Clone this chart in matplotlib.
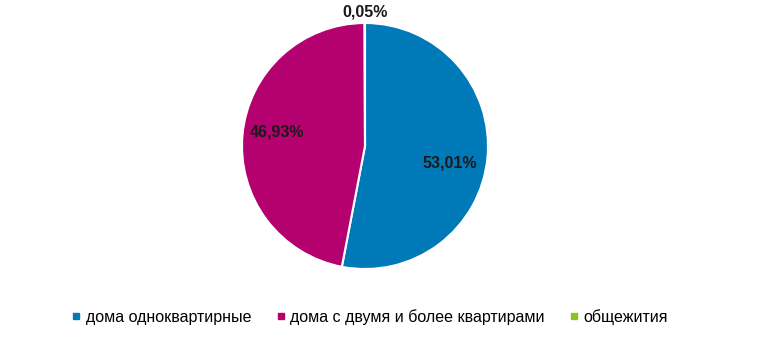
import numpy as np
import matplotlib.pyplot as plt
from matplotlib.lines import Line2D

plt.rcParams['font.family'] = ['Liberation Sans', 'DejaVu Sans']

# data
categories = ['дома одноквартирные', 'дома с двумя и более квартирами', 'общежития']
shares = [53.01, 46.93, 0.05]
labels = ['53,01%', '46,93%', '0,05%']
colors = ['#0079B8', '#B5006F', '#8DC21F']

fig = plt.figure(figsize=(7.68, 3.55), dpi=100)
ax = fig.add_axes([242 / 768, 86 / 355, 246 / 768, 246 / 355])

wedges, _ = ax.pie(shares, colors=colors, startangle=90, counterclock=False,
                   radius=1, wedgeprops=dict(edgecolor='white', linewidth=1.5))

# label radius / angle shift per slice (small one sits outside)
label_r = [0.70, 0.725, 1.09]
label_shift = [-6, -4, 0]
for w, lab, r, sh in zip(wedges, labels, label_r, label_shift):
    mid = np.deg2rad((w.theta1 + w.theta2) / 2 + sh)
    ax.text(r * np.cos(mid), r * np.sin(mid), lab, ha='center', va='center',
            fontsize=11.5, fontweight='bold', color='#1a1a1a')

ax.set_xlim(-1, 1)
ax.set_ylim(-1, 1)
ax.set_aspect('equal')
ax.axis('off')

handles = [Line2D([], [], marker='s', linestyle='none', markersize=4,
                  markerfacecolor=c, markeredgecolor=c) for c in colors]
fig.legend(handles, categories, loc='center', bbox_to_anchor=(0.482, 0.107),
           ncol=3, frameon=False, fontsize=11.5, handlelength=0.5,
           handletextpad=0.35, columnspacing=1.6)

fig.savefig('out.png', dpi=100)
